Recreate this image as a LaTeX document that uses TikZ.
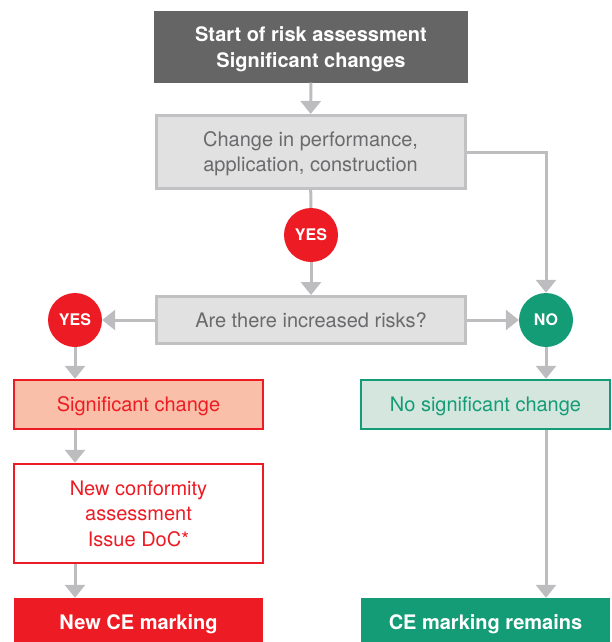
\documentclass[tikz,border=0pt]{standalone}
\usepackage{fontspec}
\setmainfont{TeX Gyre Heros}
\usetikzlibrary{arrows.meta}
\definecolor{dgray}{HTML}{656565}
\definecolor{lgray}{HTML}{E1E1E2}
\definecolor{bgray}{HTML}{C1C1C3}
\definecolor{tgray}{HTML}{6A6A6C}
\definecolor{agray}{HTML}{BDBDC0}
\definecolor{cred}{HTML}{ED1C24}
\definecolor{cgreen}{HTML}{149C77}
\definecolor{salmon}{HTML}{F9BFA9}
\definecolor{lgreen}{HTML}{D4E6DD}
\begin{document}
\begin{tikzpicture}[x=1pt,y=-1pt,
  txt/.style={font=\fontsize{20}{25}\selectfont, align=center, inner sep=0pt},
  graybox/.style={txt, fill=lgray, draw=bgray, line width=3pt, text=tgray},
  redbox/.style={txt, draw=cred, line width=2.5pt, text=cred},
  greenbox/.style={txt, draw=cgreen, line width=2.5pt, text=cgreen},
  bwide/.style={minimum width=249pt},
  circ/.style={circle, minimum size=54pt, inner sep=0pt, text=white, font=\fontsize{16}{16}\selectfont\bfseries},
  arr/.style={draw=agray, line width=3pt, -{Triangle[width=20pt,length=13pt]}},
  ln/.style={draw=agray, line width=3pt}
]
\useasboundingbox (0,0) rectangle (611,642);
\node[txt, fill=dgray, text=white, font=\fontsize{20}{26}\selectfont\bfseries, minimum width=314pt, minimum height=71pt, text depth=0pt] (start) at (311,47) {Start of risk assessment\\Significant changes};
\node[graybox, minimum width=309pt, minimum height=73pt, text depth=-11pt] (change) at (310.5,152) {Change in performance,\\application, construction};
\node[circ, fill=cred] (yes1) at (311,235) {YES};
\node[graybox, minimum width=309pt, minimum height=47pt, text depth=0pt] (risk) at (311,320) {Are there increased risks?};
\node[circ, fill=cred] (yes2) at (75,320) {YES};
\node[circ, fill=cgreen] (no) at (546,320) {NO};
\node[redbox, bwide, fill=salmon, minimum height=49pt, text depth=0pt] (sig) at (138.5,404.5) {Significant change};
\node[greenbox, bwide, fill=lgreen, minimum height=49pt, text depth=0pt] (nosig) at (485.5,404.5) {No significant change};
\node[redbox, bwide, fill=white, minimum height=99pt, font=\fontsize{20}{25.5}\selectfont] (conf) at (138.5,513.5) {New conformity\\assessment\\Issue DoC*};
\node[txt, bwide, fill=cred, text=white, font=\fontsize{20}{25}\selectfont\bfseries, minimum height=52pt] (newce) at (138.5,624) {New CE marking};
\node[txt, bwide, fill=cgreen, text=white, font=\fontsize{20}{25}\selectfont\bfseries, minimum height=52pt] (remains) at (485.5,624) {CE marking remains};
\draw[arr] (start) -- (change);
\draw[ln] (change) -- (yes1);
\draw[arr] (yes1) -- (risk);
\draw[arr] (change.east) -| (no.north);
\draw[arr] (risk) -- (yes2);
\draw[arr] (risk) -- (no);
\draw[arr] (yes2) -- (sig.north -| yes2);
\draw[arr] (no) -- (nosig.north -| no);
\draw[arr] (sig.south -| yes2) -- (conf.north -| yes2);
\draw[arr] (conf.south -| yes2) -- (newce.north -| yes2);
\draw[arr] (nosig.south -| no) -- (remains.north -| no);
\end{tikzpicture}
\end{document}
